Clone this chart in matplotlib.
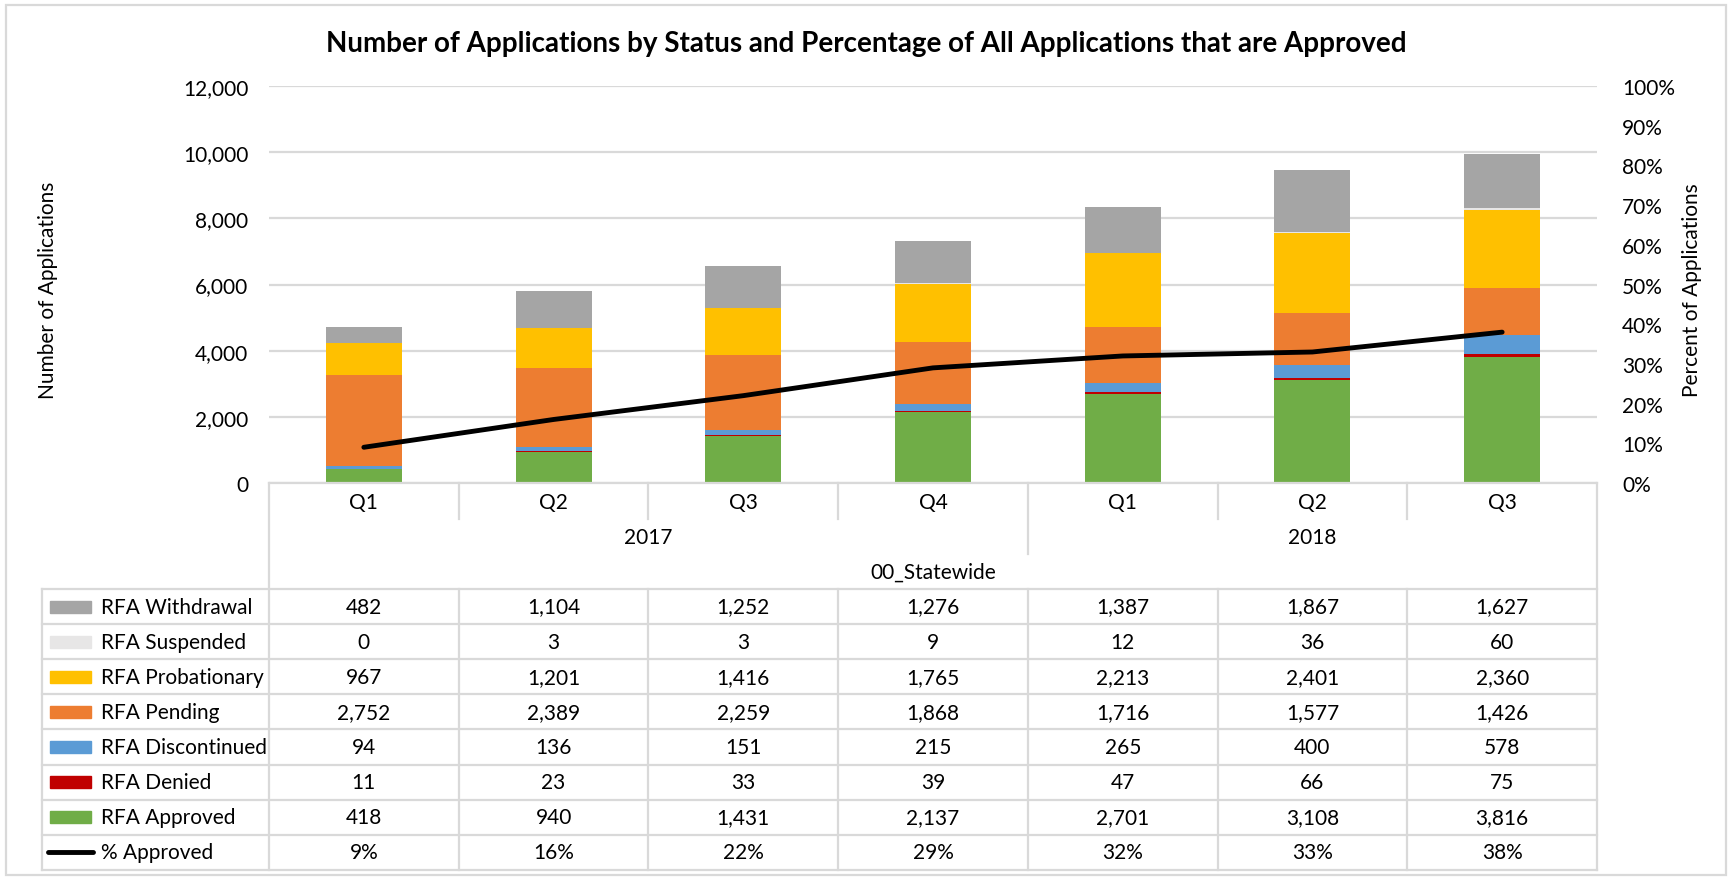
import matplotlib
matplotlib.use("Agg")
import matplotlib.pyplot as plt
from matplotlib.lines import Line2D
from matplotlib.patches import Rectangle
import numpy as np

plt.rcParams['font.family'] = ['Lato', 'DejaVu Sans']

# data
quarters = ['Q1', 'Q2', 'Q3', 'Q4', 'Q1', 'Q2', 'Q3']
years = ['2017', '2018']
year_counts = [4, 3]
region = '00_Statewide'

withdrawal = [482, 1104, 1252, 1276, 1387, 1867, 1627]
suspended = [0, 3, 3, 9, 12, 36, 60]
probationary = [967, 1201, 1416, 1765, 2213, 2401, 2360]
pending = [2752, 2389, 2259, 1868, 1716, 1577, 1426]
discontinued = [94, 136, 151, 215, 265, 400, 578]
denied = [11, 23, 33, 39, 47, 66, 75]
approved = [418, 940, 1431, 2137, 2701, 3108, 3816]
pct_approved = [9, 16, 22, 29, 32, 33, 38]

# stacking order bottom -> top
series = [
    ('RFA Approved', approved, '#70AD47'),
    ('RFA Denied', denied, '#C00000'),
    ('RFA Discontinued', discontinued, '#5B9BD5'),
    ('RFA Pending', pending, '#ED7D31'),
    ('RFA Probationary', probationary, '#FFC000'),
    ('RFA Suspended', suspended, '#E7E6E6'),
    ('RFA Withdrawal', withdrawal, '#A5A5A5'),
]

W, H = 1732, 879
fig = plt.figure(figsize=(W / 100, H / 100), dpi=100)

# layout in pixels
px_left, px_right = 269, 1597
px_top, px_bottom = 87, 484
ax = fig.add_axes([px_left / W, 1 - px_bottom / H,
                   (px_right - px_left) / W, (px_bottom - px_top) / H])

grid_c = '#D9D9D9'
fs = 15

x = np.arange(len(quarters))
bottom = np.zeros(len(quarters))
for name, vals, col in series:
    ax.bar(x, vals, width=0.4, bottom=bottom, color=col, zorder=2)
    bottom += np.array(vals)

ax.set_xlim(-0.5, len(quarters) - 0.5)
ax.set_ylim(0, 12000)
ax.set_yticks(np.arange(0, 12001, 2000))
ax.set_yticklabels([f'{v:,}' for v in range(0, 12001, 2000)], fontsize=fs)
ax.set_xticks([])
ax.yaxis.grid(True, color=grid_c, linewidth=1.6, zorder=0)
ax.tick_params(axis='y', length=0, pad=15)
for s in ['top', 'right', 'left']:
    ax.spines[s].set_visible(False)
ax.spines['bottom'].set_color(grid_c)
ax.spines['bottom'].set_linewidth(1.6)

ax2 = ax.twinx()
ax2.plot(x, np.array(pct_approved) / 100, color='black', linewidth=3.5,
         solid_capstyle='round', zorder=5)
ax2.set_ylim(0, 1)
ax2.set_yticks(np.arange(0, 1.01, 0.1))
ax2.set_yticklabels([f'{int(round(v * 100))}%' for v in np.arange(0, 1.01, 0.1)], fontsize=fs)
ax2.tick_params(axis='y', length=0, pad=18)
for s in ['top', 'right', 'left', 'bottom']:
    ax2.spines[s].set_visible(False)

fig.text(48 / W, 1 - 290 / H, 'Number of Applications', rotation=90,
         ha='center', va='center', fontsize=fs)
fig.text(1692 / W, 1 - 290 / H, 'Percent of Applications', rotation=90,
         ha='center', va='center', fontsize=fs)
fig.text(0.5, 1 - 44 / H,
         'Number of Applications by Status and Percentage of All Applications that are Approved',
         ha='center', va='center', fontsize=20, fontweight='bold')

# data table drawn in pixel space
ov = fig.add_axes([0, 0, 1, 1])
ov.set_xlim(0, W)
ov.set_ylim(H, 0)
ov.axis('off')

def hline(y, x0, x1):
    ov.add_line(Line2D([x0, x1], [y, y], color=grid_c, linewidth=1.6))

def vline(xp, y0, y1):
    ov.add_line(Line2D([xp, xp], [y0, y1], color=grid_c, linewidth=1.6))

col_w = (px_right - px_left) / len(quarters)
tab_left = 42
tab_top = 590
row_h = 35.1
rows = [s for s in series[::-1]]
n_rows = len(rows) + 1
tab_bottom = tab_top + n_rows * row_h

# category axis area
q_y, yr_y, reg_y = 503, 538, 573
for i, q in enumerate(quarters):
    ov.text(px_left + (i + 0.5) * col_w, q_y, q, ha='center', va='center', fontsize=fs)
start = 0
for yr, n in zip(years, year_counts):
    ov.text(px_left + (start + n / 2) * col_w, yr_y, yr, ha='center', va='center', fontsize=fs)
    start += n
ov.text((px_left + px_right) / 2, reg_y, region, ha='center', va='center', fontsize=fs)

cum = np.cumsum(year_counts)[:-1]
for i in range(1, len(quarters)):
    if i in cum:
        vline(px_left + i * col_w, px_bottom, 555)
    else:
        vline(px_left + i * col_w, px_bottom, 520)
vline(px_left, px_bottom, tab_bottom)
vline(px_right, px_bottom, tab_bottom)

# table grid
for r in range(n_rows + 1):
    hline(tab_top + r * row_h, tab_left, px_right)
vline(tab_left, tab_top, tab_bottom)
for i in range(1, len(quarters)):
    vline(px_left + i * col_w, tab_top, tab_bottom)

# table contents
for r, (name, vals, col) in enumerate(rows):
    yc = tab_top + (r + 0.5) * row_h
    ov.add_patch(Rectangle((50, yc - 6), 41, 12, color=col))
    ov.text(101, yc, name, ha='left', va='center', fontsize=fs)
    for i, v in enumerate(vals):
        ov.text(px_left + (i + 0.5) * col_w, yc, f'{v:,}', ha='center', va='center', fontsize=fs)
yc = tab_top + (n_rows - 0.5) * row_h
ov.add_line(Line2D([48, 93], [yc, yc], color='black', linewidth=3.5, solid_capstyle='round'))
ov.text(101, yc, '% Approved', ha='left', va='center', fontsize=fs)
for i, v in enumerate(pct_approved):
    ov.text(px_left + (i + 0.5) * col_w, yc, f'{v}%', ha='center', va='center', fontsize=fs)

# chart border
ov.add_patch(Rectangle((6, 6), W - 12, H - 9, fill=False, edgecolor=grid_c, linewidth=1.6))

fig.savefig('out.png', dpi=100)
